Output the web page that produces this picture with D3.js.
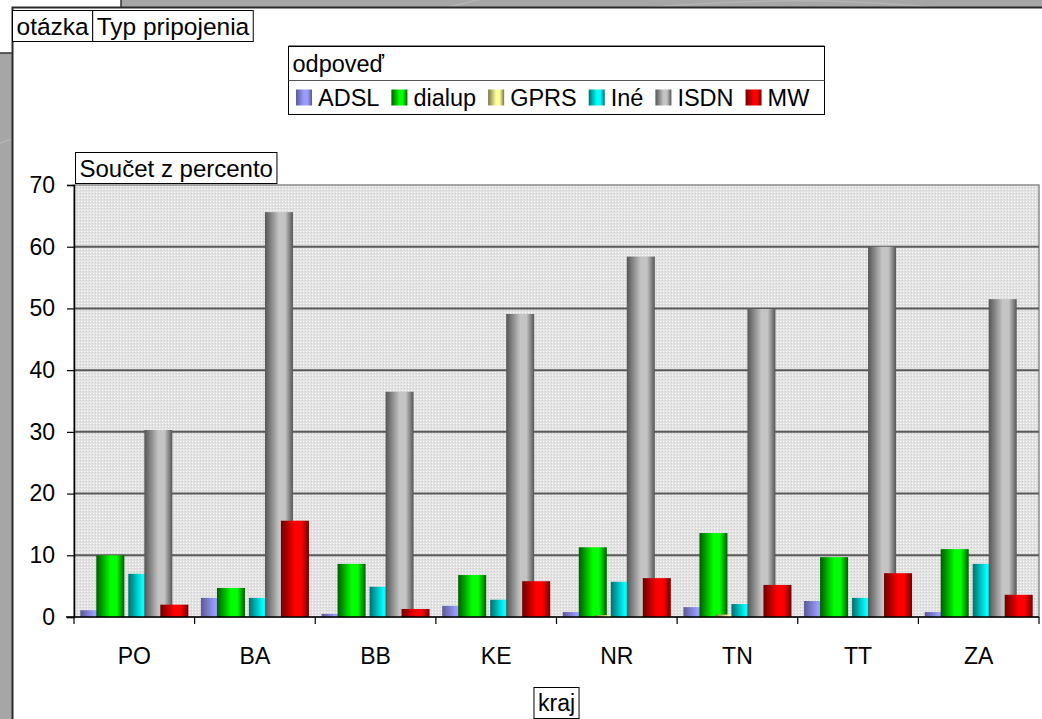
<!DOCTYPE html>
<html>
<head>
<meta charset="utf-8">
<script src="https://cdn.jsdelivr.net/npm/d3@7"></script>
<style>
  html, body { margin: 0; padding: 0; background: #a6a6a6; }
  svg { display: block; font-family: "Liberation Sans", Arial, sans-serif; }
</style>
</head>
<body>
<div id="chart-container"></div>
<script>
// data
const categories = ["PO", "BA", "BB", "KE", "NR", "TN", "TT", "ZA"];
const seriesNames = ["ADSL", "dialup", "GPRS", "Iné", "ISDN", "MW"];
const adsl   = [1.1, 3.1, 0.5, 1.8, 0.8, 1.6, 2.6, 0.8];
const dialup = [10.0, 4.7, 8.6, 6.8, 11.3, 13.6, 9.7, 11.0];
const gprs   = [0, 0, 0, 0, 0.3, 0.4, 0, 0];
const ine    = [7.0, 3.1, 4.9, 2.8, 5.7, 2.1, 3.1, 8.6];
const isdn   = [30.3, 65.6, 36.5, 49.1, 58.4, 49.9, 60.0, 51.5];
const mw     = [2.0, 15.6, 1.3, 5.8, 6.3, 5.2, 7.1, 3.6];
const yTicks = [0, 10, 20, 30, 40, 50, 60, 70];

const seriesValues = [adsl, dialup, gprs, ine, isdn, mw];
// dark edge / bright centre of each bar
const shades = [
  ["#5a5a96", "#9c9cff"],
  ["#005c00", "#00ff00"],
  ["#77774a", "#ffff99"],
  ["#006f6f", "#00ffff"],
  ["#555555", "#c4c4c4"],
  ["#6e0000", "#ff0000"]
];

const width = 1042, height = 719;
const plot = {left: 74, right: 1039, top: 185, bottom: 617};

const svg = d3.select("#chart-container")
  .append("svg")
  .attr("width", width)
  .attr("height", height);

const defs = svg.append("defs");

// background: grey desktop, white panel behind, chart window
svg.append("rect").attr("width", width).attr("height", height).attr("fill", "#a6a6a6");
svg.append("path")
  .attr("d", "M-20,150 Q300,40 520,-10 M600,12 Q900,-20 1100,40")
  .attr("fill", "none").attr("stroke", "#b4b4b4").attr("stroke-width", 1.5);
svg.append("rect").attr("x", 0).attr("y", 0).attr("width", 121).attr("height", 53).attr("fill", "#fff");
svg.append("line").attr("x1", 0).attr("x2", 12).attr("y1", 53).attr("y2", 53).attr("stroke", "#333").attr("stroke-width", 1.5);
svg.append("line").attr("x1", 121).attr("x2", 121).attr("y1", 0).attr("y2", 7).attr("stroke", "#333").attr("stroke-width", 1.5);
svg.append("rect").attr("x", 12).attr("y", 7).attr("width", width - 12).attr("height", height - 7).attr("fill", "#fff");
svg.append("path").attr("d", `M12.5,${height} V7.5 H${width}`)
  .attr("fill", "none").attr("stroke", "#2a2a2a").attr("stroke-width", 2);

// dotted plot background
const pat = defs.append("pattern").attr("id", "dots")
  .attr("width", 3).attr("height", 3).attr("patternUnits", "userSpaceOnUse");
pat.append("rect").attr("width", 3).attr("height", 3).attr("fill", "#e2e2e2");
pat.append("rect").attr("x", 0).attr("y", 0).attr("width", 1).attr("height", 1).attr("fill", "#fbfbfb");
pat.append("rect").attr("x", 2).attr("y", 1).attr("width", 1).attr("height", 1).attr("fill", "#cfcfcf");

shades.forEach((s, i) => {
  const lg = defs.append("linearGradient").attr("id", "grad" + i)
    .attr("x1", 0).attr("x2", 1).attr("y1", 0).attr("y2", 0);
  lg.append("stop").attr("offset", "0%").attr("stop-color", s[0]);
  lg.append("stop").attr("offset", "50%").attr("stop-color", s[1]);
  lg.append("stop").attr("offset", "72%").attr("stop-color", s[1]);
  lg.append("stop").attr("offset", "100%").attr("stop-color", s[0]);
});

// scales
const x0 = d3.scaleBand().domain(categories).range([plot.left, plot.right]);
const barW = 28;
const x1 = d3.scalePoint().domain(seriesNames).range([0, 80]);
const groupPad = (x0.bandwidth() - 80 - barW) / 2;
const y = d3.scaleLinear().domain([0, 70]).range([plot.bottom, plot.top]);

svg.append("rect")
  .attr("x", plot.left).attr("y", plot.top)
  .attr("width", plot.right - plot.left).attr("height", plot.bottom - plot.top)
  .attr("fill", "url(#dots)")
  .attr("stroke", "#8a8a8a").attr("stroke-width", 1.5);

// gridlines
svg.append("g").selectAll("line")
  .data(yTicks.filter(t => t > 0 && t < 70))
  .join("line")
    .attr("x1", plot.left).attr("x2", plot.right)
    .attr("y1", d => y(d)).attr("y2", d => y(d))
    .attr("stroke", "#595959").attr("stroke-width", 2);

// bars, series by series so later ones sit on top
seriesNames.forEach((name, si) => {
  svg.append("g").selectAll("rect")
    .data(categories.map((c, ci) => ({c, v: seriesValues[si][ci]})))
    .join("rect")
      .attr("x", d => x0(d.c) + groupPad + x1(name))
      .attr("y", d => y(d.v))
      .attr("width", barW)
      .attr("height", d => y(0) - y(d.v))
      .attr("fill", `url(#grad${si})`);
});

// y axis
const yAxis = d3.axisLeft(y).tickValues(yTicks).tickSize(7).tickPadding(12);
const gy = svg.append("g").attr("transform", `translate(${plot.left},0)`).call(yAxis);
gy.select(".domain").attr("stroke", "#000").attr("stroke-width", 1.5);
gy.selectAll(".tick line").attr("stroke", "#000").attr("stroke-width", 1.2);
gy.selectAll(".tick text").attr("font-size", 23).attr("fill", "#000")
  .attr("font-family", "'Liberation Sans', Arial, sans-serif");

// x axis: ticks at category boundaries, labels centred
const gx = svg.append("g");
gx.append("line").attr("x1", plot.left - 8).attr("x2", plot.right)
  .attr("y1", plot.bottom).attr("y2", plot.bottom)
  .attr("stroke", "#000").attr("stroke-width", 1.5);
gx.selectAll(".tk")
  .data(categories.map(c => x0(c)).concat([plot.right]))
  .join("line").attr("class", "tk")
    .attr("x1", d => d).attr("x2", d => d)
    .attr("y1", plot.bottom).attr("y2", plot.bottom + 7)
    .attr("stroke", "#000").attr("stroke-width", 1.2);
gx.selectAll("text")
  .data(categories)
  .join("text")
    .attr("x", d => x0(d) + x0.bandwidth() / 2)
    .attr("y", 664)
    .attr("text-anchor", "middle")
    .attr("font-size", 23)
    .text(d => d);

// boxed labels
function boxLabel(x, yTop, h, txt, size, anchor) {
  const g = svg.append("g");
  const t = g.append("text").attr("y", yTop + h / 2).attr("dy", "0.36em")
    .attr("font-size", size).text(txt);
  const w = t.node().getComputedTextLength() + 8;
  const bx = anchor === "middle" ? x - w / 2 : x;
  t.attr("x", bx + 4);
  g.insert("rect", "text").attr("x", bx).attr("y", yTop).attr("width", w).attr("height", h)
    .attr("fill", "#fff").attr("stroke", "#000").attr("stroke-width", 1);
  return w;
}

const w1 = boxLabel(12.5, 10.5, 31, "otázka", 24.5);
boxLabel(12.5 + w1, 10.5, 31, "Typ pripojenia", 24.5);
boxLabel(75.5, 152.5, 31, "Součet z percento", 24);
boxLabel((plot.left + plot.right) / 2, 687.5, 31, "kraj", 23, "middle");

// legend
const legend = {x: 288.5, y: 46.5, w: 536, h: 68};
const lg = svg.append("g");
lg.append("rect").attr("x", legend.x).attr("y", legend.y).attr("width", legend.w).attr("height", legend.h)
  .attr("fill", "#fff").attr("stroke", "#000").attr("stroke-width", 1);
lg.append("line").attr("x1", legend.x).attr("x2", legend.x + legend.w)
  .attr("y1", legend.y + 34).attr("y2", legend.y + 34).attr("stroke", "#555").attr("stroke-width", 1);
lg.append("line").attr("x1", legend.x).attr("x2", legend.x + legend.w)
  .attr("y1", legend.y - 1).attr("y2", legend.y - 1).attr("stroke", "#888").attr("stroke-width", 1);
lg.append("text").attr("x", legend.x + 4).attr("y", legend.y + 17).attr("dy", "0.36em")
  .attr("font-size", 23.5).text("odpoveď");
let lx = legend.x + 7.5;
seriesNames.forEach((name, i) => {
  lg.append("rect").attr("x", lx).attr("y", legend.y + 43).attr("width", 16).attr("height", 16)
    .attr("fill", `url(#grad${i})`);
  const t = lg.append("text").attr("x", lx + 22).attr("y", legend.y + 51).attr("dy", "0.36em")
    .attr("font-size", 23.5).text(name);
  lx += 22 + t.node().getComputedTextLength() + 12;
});
</script>
</body>
</html>
